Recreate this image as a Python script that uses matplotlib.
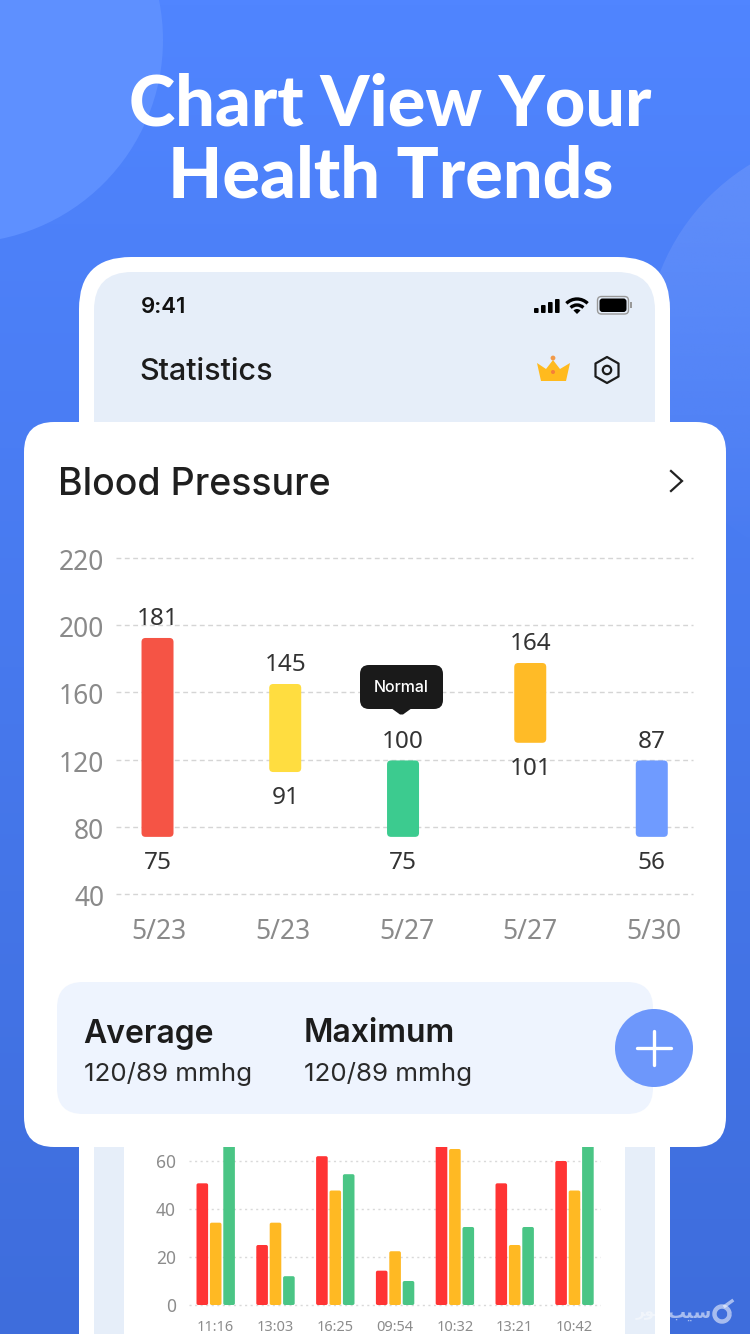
import numpy as np
import matplotlib
matplotlib.use("Agg")
import matplotlib.pyplot as plt
from matplotlib.patches import FancyBboxPatch, Circle, Rectangle, Polygon, Wedge, Arc
from matplotlib.transforms import ScaledTranslation

W, H = 750, 1334

# main chart data
dates = ["5/23", "5/23", "5/27", "5/27", "5/30"]
bar_pos = [-0.012, 1.02, 1.972, 3.0, 3.982]
bar_top = [192.4, 165.0, 119.5, 177.5, 119.5]
bar_bottom = [74.0, 112.6, 74.0, 130.0, 74.0]
high_labels = [181, 145, 100, 164, 87]
low_labels = [75, 91, 75, 101, 56]
bar_colors = ["#F55445", "#FFDD40", "#3CCB8F", "#FFBB27", "#6F9BFF"]
y_ticks = [40, 80, 120, 160, 200, 240]
y_tick_labels = ["40", "80", "120", "160", "200", "220"]

# lower chart data
times = ["11:16", "13:03", "16:25", "09:54", "10:32", "13:21", "10:42"]
red_vals = [50.7, 25, 62, 14.3, 70, 50.7, 60]
yellow_vals = [34.3, 34.3, 47.7, 22.4, 65, 25, 47.7]
green_vals = [72, 12, 54.5, 10, 32.5, 32.5, 72]
low_ticks = [0, 20, 40, 60]

FONT = ["Inter", "Noto Sans", "DejaVu Sans"]
NUM = ["Noto Sans", "DejaVu Sans"]
plt.rcParams["font.family"] = FONT

fig = plt.figure(figsize=(W / 100, H / 100), dpi=100)


def px_axes(x0, y0, x1, y1, z):
    ax = fig.add_axes([x0 / W, 1 - y1 / H, (x1 - x0) / W, (y1 - y0) / H], zorder=z)
    ax.patch.set_alpha(0)
    return ax


def overlay(z):
    ax = px_axes(0, 0, W, H, z)
    ax.set_xlim(0, W)
    ax.set_ylim(H, 0)
    ax.axis("off")
    return ax


def rrect(ax, x0, y0, x1, y1, r, **kw):
    p = FancyBboxPatch((x0 + r, y0 + r), x1 - x0 - 2 * r, y1 - y0 - 2 * r,
                       boxstyle=f"round,pad={r},rounding_size={r}", lw=kw.pop("lw", 0), **kw)
    ax.add_patch(p)
    return p


def shift_down(labels, px):
    for lb in labels:
        lb.set_transform(lb.get_transform() + ScaledTranslation(0, -px / 100, fig.dpi_scale_trans))


# ---------- background
bg = overlay(0)
c_top = np.array([0x50, 0x85, 0xFF]) / 255
c_bot = np.array([0x3E, 0x6D, 0xDC]) / 255
t = np.linspace(0, 1, 256)[:, None, None]
grad = c_top[None, None, :] * (1 - t) + c_bot[None, None, :] * t
bg.imshow(grad, extent=(0, W, H, 0), aspect="auto", zorder=0)
bg.add_patch(Circle((-40, 40), 203, fc="#5E90FF", lw=0, zorder=1))
# right-hand circle, fading out downward
fade = np.zeros((256, 1, 4))
fade[..., :3] = np.array([0x62, 0x8F, 0xFA]) / 255
fade[..., 3] = np.clip(np.linspace(1.0, 0.0, 256), 0, 1)[:, None]
fade_im = bg.imshow(fade, extent=(630, W, 560, 130), aspect="auto", zorder=1)
fade_clip = Circle((865, 352), 220, transform=bg.transData)
fade_im.set_clip_path(fade_clip)
bg.set_xlim(0, W)
bg.set_ylim(H, 0)

bg.text(390, 105, "Chart View Your", color="white", fontsize=50.5, fontweight="black",
        ha="center", va="center", family=["Lato", "DejaVu Sans"], zorder=3)
bg.text(391, 177, "Health Trends", color="white", fontsize=50.5, fontweight="black",
        ha="center", va="center", family=["Lato", "DejaVu Sans"], zorder=3)

# phone
rrect(bg, 79, 257, 670, 1500, 52, fc="white", zorder=2)
rrect(bg, 94, 272, 655, 1500, 38, fc="#E6EEF9", zorder=2)
bg.add_patch(Rectangle((124, 1100), 501, 300, fc="white", lw=0, zorder=2))

bg.text(141, 307, "9:41", color="#111111", fontsize=16, fontweight="semibold",
        ha="left", va="center", zorder=3)
bg.text(139, 372.5, "Statistics", color="#1C1C1C", fontsize=22, fontweight="medium",
        ha="left", va="center", zorder=3)

# signal
for xx, hh in zip([534, 541, 548, 555], [5, 8, 11, 14]):
    rrect(bg, xx, 313 - hh, xx + 4.6, 313, 1, fc="black", zorder=3)
# wifi
for r, lw in [(15, 2.4), (9, 2.4)]:
    bg.add_patch(Arc((577, 314), 2 * r, 2 * r, theta1=225, theta2=315, color="black", lw=lw, zorder=3))
bg.add_patch(Wedge((577, 314), 5, 225, 315, fc="black", lw=0, zorder=3))
# battery
rrect(bg, 597.5, 296.5, 628.5, 314, 4, fc="none", ec="#999999", lw=1, zorder=3)
rrect(bg, 599.5, 298.5, 626.5, 312, 3, fc="black", zorder=3)
bg.add_patch(Rectangle((629.5, 302), 2, 6, fc="#999999", lw=0, zorder=3))
# crown
bg.add_patch(Polygon([(541, 381), (537, 363), (546, 369), (553, 360), (560, 369), (570, 363), (566, 381)],
                     closed=True, fc="#FFBA1E", lw=0, zorder=3))
bg.add_patch(Circle((553, 358), 2.4, fc="#F29A4A", lw=0, zorder=3))
bg.add_patch(Circle((553, 372), 2, fc="#F57F3A", lw=0, zorder=3))
# hex settings icon
hx, hy = 607, 370
bg.add_patch(Polygon([(hx, hy - 13), (hx + 11.5, hy - 6.5), (hx + 11.5, hy + 6.5), (hx, hy + 13),
                      (hx - 11.5, hy + 6.5), (hx - 11.5, hy - 6.5)], closed=True, fc="none",
                     ec="#1C1C1C", lw=1.6, joinstyle="round", zorder=3))
bg.add_patch(Circle((hx, hy), 4.2, fc="none", ec="#1C1C1C", lw=1.6, zorder=3))

# ---------- lower chart
low = px_axes(189, 1147, 601, 1307.4, 1)
low.set_xlim((189 - 215.7) / 59.8, (601 - 215.7) / 59.8)
low.set_ylim(-1, 65.83)
low.set_facecolor("none")
for s in low.spines.values():
    s.set_visible(False)
low.set_yticks(low_ticks)
low.set_xticks(range(len(times)))
low.set_xticklabels(times, family=NUM)
low.tick_params(axis="both", length=0, labelcolor="#8C8C8C")
low.tick_params(axis="y", labelsize=12.5, pad=9.5)
low.tick_params(axis="x", labelsize=10.5, pad=9)
for lb in low.get_yticklabels():
    lb.set_family(NUM)
low.grid(axis="y", color="#D9D9D9", ls=(0, (1.5, 2.5)), lw=1)
low.set_axisbelow(True)
aspect_low = (66.83 / 160.4) / (6.889 / 412)
bw, off = 0.194, 0.224
for k, (vals, col) in enumerate(zip([red_vals, yellow_vals, green_vals], ["#FF3434", "#FFB923", "#4AC585"])):
    for i, v in enumerate(vals):
        x0 = i + (k - 1) * off - bw / 2
        rr = 0.03
        p = FancyBboxPatch((x0 + rr, 0 + rr * aspect_low), bw - 2 * rr, v - 2 * rr * aspect_low,
                           boxstyle=f"round,pad={rr},rounding_size={rr}", mutation_aspect=aspect_low,
                           fc=col, lw=0, zorder=3)
        low.add_patch(p)

# ---------- card
card = overlay(2)
rrect(card, 24, 422, 726, 1147, 30, fc="white", zorder=1)
card.text(58, 485, "Blood Pressure", color="#1F1F1F", fontsize=27, fontweight="medium",
          ha="left", va="center", zorder=2)
card.plot([671, 682, 671], [471, 481, 491], color="#222222", lw=1.6, solid_joinstyle="miter", zorder=2)
rrect(card, 57, 982, 653, 1114, 26, fc="#EEF4FE", zorder=1)
card.text(83, 1034, "Average", color="#1C1C1C", fontsize=23, fontweight="semibold", ha="left", va="center", zorder=2)
card.text(304, 1034, "Maximum", color="#1C1C1C", fontsize=23, fontweight="semibold", ha="left", va="center", zorder=2)
card.text(84, 1074, "120/89 mmhg", color="#2A2A2A", fontsize=18.7, ha="left", va="center", zorder=2)
card.text(304, 1074, "120/89 mmhg", color="#2A2A2A", fontsize=18.7, ha="left", va="center", zorder=2)
card.add_patch(Circle((654, 1048), 39, fc="#6D97FB", lw=0, zorder=3))
card.plot([637, 671], [1048, 1048], color="white", lw=2.4, solid_capstyle="round", zorder=4)
card.plot([654, 654], [1031, 1065], color="white", lw=2.4, solid_capstyle="round", zorder=4)

# ---------- main chart
ax = px_axes(116, 558, 693, 894, 3)
ax.set_xlim((116 - 159) / 123.75, (693 - 159) / 123.75)
ax.set_ylim(40, 240)
for s in ax.spines.values():
    s.set_visible(False)
ax.set_yticks(y_ticks)
ax.set_yticklabels(y_tick_labels, family=NUM)
ax.set_xticks(range(len(dates)))
ax.set_xticklabels(dates, family=NUM)
ax.tick_params(axis="both", length=0, labelcolor="#8A8A8A", labelsize=19)
ax.tick_params(axis="y", pad=8.5)
ax.tick_params(axis="x", pad=17)
shift_down(ax.get_yticklabels(), 1.5)
ax.grid(axis="y", color="#D5D5D5", ls=(0, (3.5, 2.5)), lw=1)
for gl in ax.get_ygridlines():
    gl.set_clip_on(False)
ax.set_axisbelow(True)
x_per_px = 1 / 123.75
y_per_px = 200 / 336
aspect_main = y_per_px / x_per_px
bw = 32 * x_per_px
rr = 4 * x_per_px
for x, lo, hi, col, hl, ll in zip(bar_pos, bar_bottom, bar_top, bar_colors, high_labels, low_labels):
    ax.add_patch(FancyBboxPatch((x - bw / 2 + rr, lo + rr * aspect_main), bw - 2 * rr, hi - lo - 2 * rr * aspect_main,
                                boxstyle=f"round,pad={rr},rounding_size={rr}", mutation_aspect=aspect_main,
                                fc=col, lw=0, zorder=3))
    ax.annotate(str(hl), (x, hi), xytext=(0, 13.6), textcoords="offset points", ha="center", va="center",
                fontsize=17.5, color="#333333", family=NUM, zorder=4)
    ax.annotate(str(ll), (x, lo), xytext=(0, -18.6), textcoords="offset points", ha="center", va="center",
                fontsize=17.5, color="#333333", family=NUM, zorder=4)

# ---------- tooltip & watermark
top = overlay(4)
rrect(top, 360, 665, 443, 709, 9, fc="#1A1A1A", zorder=2)
top.add_patch(Polygon([(391, 708), (412, 708), (403, 714.5), (400, 714.5)], closed=True, fc="#1A1A1A", lw=0, zorder=2))
top.text(401.5, 687.5, "Normal", color="white", fontsize=11.5, fontweight="medium", ha="center", va="center", zorder=3)

top.add_patch(Arc((722, 1314), 15, 15, theta1=0, theta2=360, color="white", lw=3.2, alpha=0.55, zorder=3))
top.plot([725, 732], [1306, 1301], color="white", lw=2.4, alpha=0.55, zorder=3)
top.text(690, 1313, "\uFE90\uFBFF\uFEB3", color="white", alpha=0.55, fontsize=13, fontweight="bold",
         ha="center", va="center", family=["DejaVu Sans"], zorder=3)
top.text(648, 1313, "\uFEAE\uFEEE\uFE97", color="white", alpha=0.45, fontsize=11, fontweight="bold",
         ha="center", va="center", family=["DejaVu Sans"], zorder=3)

fig.savefig("out.png", dpi=100)
